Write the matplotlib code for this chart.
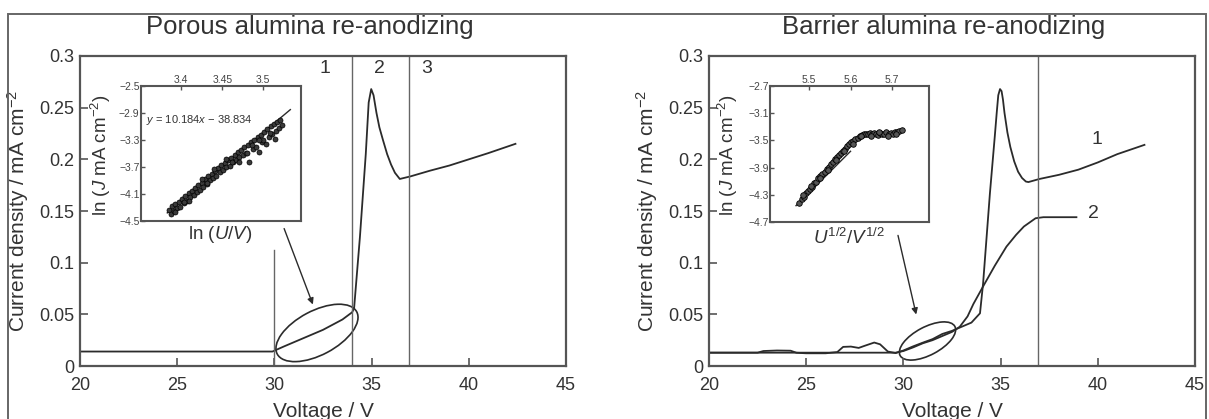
import matplotlib
matplotlib.use('Agg')
import matplotlib.pyplot as plt
import matplotlib.transforms as mtransforms
from matplotlib.patches import Ellipse, Rectangle

plt.rcParams['font.family'] = ['Liberation Sans', 'DejaVu Sans']
plt.rcParams['mathtext.fontset'] = 'custom'
plt.rcParams['mathtext.rm'] = 'Liberation Sans'
plt.rcParams['mathtext.it'] = 'Liberation Sans:italic'

# ---- data: porous alumina re-anodizing
porous_v = [20, 25, 29.9, 30.5, 31, 31.5, 32, 32.5, 33, 33.5, 34.0, 34.1, 34.4, 34.7,
            34.85, 34.98, 35.1, 35.25, 35.4, 35.58, 35.8, 36.0, 36.2, 36.45, 37, 38, 39,
            40, 41, 42.4]
porous_j = [0.014, 0.014, 0.014, 0.019, 0.023, 0.027, 0.031, 0.035, 0.040, 0.045, 0.052,
            0.056, 0.125, 0.205, 0.255, 0.268, 0.262, 0.245, 0.231, 0.219, 0.205, 0.195,
            0.187, 0.181, 0.1835, 0.189, 0.194, 0.200, 0.206, 0.215]
porous_vlines = [34.0, 36.9]
porous_short_vline = 30.0
porous_short_top = 0.112
porous_regions = ['1', '2', '3']
porous_region_x = [32.6, 35.4, 37.85]

# ---- data: barrier alumina re-anodizing
barrier1_v = [20, 22.5, 22.8, 23.5, 24.2, 24.5, 25, 26, 26.6, 26.9, 27.3, 27.7, 28.0, 28.5,
              28.8, 29.2, 29.6, 30.0, 30.5, 31, 31.5, 32, 32.5, 33, 33.5, 33.94, 34.1, 34.45,
              34.7, 34.8, 34.88, 34.97, 35.05, 35.12, 35.2, 35.35, 35.5, 35.7, 35.9, 36.1,
              36.3, 36.43, 37, 38, 39, 40, 41, 42.4]
barrier1_j = [0.0129, 0.0129, 0.0145, 0.0150, 0.0148, 0.0128, 0.0123, 0.0123, 0.0135, 0.0185,
              0.0188, 0.0175, 0.0195, 0.0227, 0.021, 0.014, 0.0125, 0.015, 0.019, 0.0226,
              0.026, 0.031, 0.034, 0.038, 0.042, 0.051, 0.080, 0.167, 0.222, 0.245, 0.262,
              0.268, 0.266, 0.258, 0.245, 0.226, 0.212, 0.198, 0.188, 0.182, 0.1785, 0.178,
              0.181, 0.185, 0.190, 0.197, 0.205, 0.214]
barrier2_v = [20, 25, 29.0, 29.6, 30.0, 30.5, 31.0, 31.5, 32.0, 32.5, 32.9, 33.3, 33.6, 34.1,
              34.7, 35.3, 35.8, 36.2, 36.5, 36.8, 37.2, 38.0, 38.9]
barrier2_j = [0.0129, 0.0129, 0.0129, 0.0129, 0.0145, 0.018, 0.022, 0.025, 0.029, 0.033, 0.038,
              0.048, 0.060, 0.077, 0.097, 0.1155, 0.127, 0.135, 0.139, 0.143, 0.144, 0.144,
              0.144]
barrier_vline = 36.9
barrier_curve_labels = ['1', '2']
barrier_label_pos = [(39.95, 0.219), (39.8, 0.148)]

# ---- inset data: ln J vs ln U (porous)
lnu = [3.385, 3.387, 3.389, 3.391, 3.393, 3.395, 3.397, 3.399, 3.401, 3.403, 3.405, 3.407,
       3.409, 3.411, 3.413, 3.415, 3.417, 3.419, 3.421, 3.423, 3.425, 3.427, 3.429, 3.431,
       3.433, 3.435, 3.437, 3.439, 3.441, 3.443, 3.445, 3.447, 3.449, 3.451, 3.453, 3.455,
       3.457, 3.459, 3.461, 3.463, 3.465, 3.467, 3.469, 3.471, 3.473, 3.475, 3.477, 3.479,
       3.481, 3.483, 3.485, 3.487, 3.489, 3.491, 3.493, 3.495, 3.497, 3.499, 3.501, 3.503,
       3.505, 3.507, 3.509, 3.511, 3.513, 3.515, 3.517, 3.519, 3.521, 3.523,
       3.455, 3.470, 3.480, 3.500, 3.495, 3.440, 3.425, 3.410, 3.392, 3.404, 3.432, 3.462,
       3.486, 3.508, 3.514]
lnj_p = [-4.33, -4.40, -4.28, -4.35, -4.25, -4.31, -4.22, -4.29, -4.17, -4.24, -4.13, -4.21,
         -4.09, -4.15, -4.05, -4.12, -4.01, -4.07, -3.96, -4.04, -3.93, -3.99, -3.88, -3.95,
         -3.84, -3.90, -3.80, -3.86, -3.76, -3.83, -3.72, -3.78, -3.67, -3.74, -3.64, -3.70,
         -3.60, -3.68, -3.56, -3.62, -3.52, -3.60, -3.48, -3.55, -3.45, -3.52, -3.40, -3.49,
         -3.37, -3.62, -3.33, -3.44, -3.30, -3.40, -3.26, -3.48, -3.22, -3.33, -3.18, -3.36,
         -3.14, -3.26, -3.10, -3.21, -3.06, -3.17, -3.03, -3.12, -3.00, -3.08,
         -3.58, -3.62, -3.50, -3.30, -3.30, -3.73, -3.88, -4.20, -4.36, -4.22, -3.93, -3.63,
         -3.38, -3.20, -3.28]
fit_p_x = [3.383, 3.533]
fit_p_y = [-4.38, -2.85]
fit_text = r'$y$ = 10.184$x$ − 38.834'

# ---- inset data: ln J vs U^1/2 (barrier)
sqrtu = [5.476, 5.482, 5.487, 5.492, 5.497, 5.502, 5.507, 5.512, 5.517, 5.522, 5.527, 5.532,
         5.537, 5.542, 5.547, 5.552, 5.557, 5.562, 5.567, 5.572, 5.577, 5.582, 5.587, 5.592,
         5.597, 5.602, 5.607, 5.612, 5.617, 5.622, 5.627, 5.632, 5.637, 5.642, 5.647, 5.652,
         5.657, 5.662, 5.667, 5.672, 5.677, 5.682, 5.687, 5.692, 5.697, 5.702, 5.707, 5.712,
         5.718, 5.724,
         5.485, 5.505, 5.525, 5.545, 5.565, 5.585, 5.605, 5.625, 5.650, 5.670, 5.690, 5.710]
lnj_b = [-4.42, -4.36, -4.33, -4.28, -4.25, -4.21, -4.18, -4.13, -4.11, -4.06, -4.03, -3.99,
         -3.96, -3.92, -3.89, -3.85, -3.82, -3.78, -3.75, -3.71, -3.68, -3.65, -3.62, -3.58,
         -3.56, -3.53, -3.51, -3.48, -3.46, -3.44, -3.42, -3.41, -3.40, -3.40, -3.39, -3.41,
         -3.39, -3.40, -3.42, -3.39, -3.41, -3.40, -3.38, -3.41, -3.39, -3.40, -3.38, -3.37,
         -3.36, -3.35,
         -4.31, -4.17, -4.06, -3.93, -3.79, -3.66, -3.55, -3.44, -3.43, -3.37, -3.43, -3.40]
fit_b_x = [5.468, 5.60]
fit_b_y = [-4.46, -3.66]

main_yticks = [0, 0.05, 0.1, 0.15, 0.2, 0.25, 0.3]
main_yticklabels = ['0', '0.05', '0.1', '0.15', '0.2', '0.25', '0.3']
main_xticks = [20, 25, 30, 35, 40, 45]

ink = '#2b2b2b'
grey = '#555555'

fig = plt.figure(figsize=(12.09, 4.19), dpi=100)

# figure frame
fig.patches.append(Rectangle((8 / 1209, -0.05), 1198 / 1209, 1 - 14 / 419 + 0.05,
                             transform=fig.transFigure, fill=False, ec='#666666', lw=1.4))

ax1 = fig.add_axes([80 / 1209, 1 - 366 / 419, 486 / 1209, 310 / 419])
ax2 = fig.add_axes([709 / 1209, 1 - 366 / 419, 486 / 1209, 310 / 419])


def style_main(ax, title, title_x):
    ax.set_xlim(20, 45)
    ax.set_ylim(0, 0.3)
    ax.set_xticks(main_xticks)
    ax.set_yticks(main_yticks)
    ax.set_yticklabels(main_yticklabels)
    ax.tick_params(direction='in', length=6, width=1.2, color=grey, labelsize=13,
                   labelcolor='#333333')
    ax.tick_params(axis='x', pad=8)
    ax.tick_params(axis='y', pad=4)
    for s in ax.spines.values():
        s.set_color(grey)
        s.set_linewidth(1.6)
    ax.set_xlabel('Voltage / V', fontsize=15, color='#333333', labelpad=6)
    ax.set_ylabel('Current density / mA cm$^{-2}$', fontsize=15, color='#333333', labelpad=6)
    ax.text(title_x, 1.095, title, transform=ax.transAxes, ha='center', va='center',
            fontsize=18.5, color='#333333')


def add_ellipse(ax, cx, cy, w_in, h_in, angle):
    trans = fig.dpi_scale_trans + mtransforms.ScaledTranslation(cx, cy, ax.transData)
    ax.add_patch(Ellipse((0, 0), w_in, h_in, angle=angle, transform=trans,
                         fill=False, ec=ink, lw=1.2))


# ---- left panel
style_main(ax1, 'Porous alumina re-anodizing', 0.473)
ax1.plot(porous_v, porous_j, color=ink, lw=1.3)
for xv in porous_vlines:
    ax1.axvline(xv, color='#666666', lw=1.0)
ax1.plot([porous_short_vline, porous_short_vline], [0, porous_short_top], color='#666666', lw=1.0)
for lab, xv in zip(porous_regions, porous_region_x):
    ax1.text(xv, 0.288, lab, ha='center', va='center', fontsize=14, color='#333333')
add_ellipse(ax1, 32.19, 0.032, 0.90, 0.44, 28)
ax1.annotate('', xy=(32.03, 0.057), xytext=(30.45, 0.1355),
             arrowprops=dict(arrowstyle='-|>', color=ink, lw=1.0, mutation_scale=9))

# ---- right panel
style_main(ax2, 'Barrier alumina re-anodizing', 0.4835)
ax2.plot(barrier1_v, barrier1_j, color=ink, lw=1.3)
ax2.plot(barrier2_v, barrier2_j, color=ink, lw=1.3)
ax2.axvline(barrier_vline, color='#666666', lw=1.0)
for lab, (xv, yv) in zip(barrier_curve_labels, barrier_label_pos):
    ax2.text(xv, yv, lab, ha='center', va='center', fontsize=14, color='#333333')
add_ellipse(ax2, 31.24, 0.0242, 0.62, 0.28, 28)
ax2.annotate('', xy=(30.69, 0.0472), xytext=(29.69, 0.129),
             arrowprops=dict(arrowstyle='-|>', color=ink, lw=1.0, mutation_scale=9))


def style_inset(ax, xt, yt, xlabel, ylab_x, xlab_y):
    ax.xaxis.tick_top()
    ax.set_xticks(xt)
    ax.set_xticklabels([('%g' % v) for v in xt])
    ax.set_yticks(yt)
    ax.set_yticklabels([('%g' % v).replace('-', '−') for v in yt])
    ax.tick_params(direction='in', length=3, width=1.0, color=grey, labelsize=7.5,
                   labelcolor='#444444', pad=1)
    for s in ax.spines.values():
        s.set_color(grey)
        s.set_linewidth(1.5)
    ax.text(0.494, xlab_y, xlabel, transform=ax.transAxes, ha='center', va='center',
            fontsize=13.5, color='#333333')
    ax.text(ylab_x, 0.49, 'ln ($J$ mA cm$^{-2}$)', transform=ax.transAxes, rotation=90,
            ha='center', va='center', fontsize=13.5, color='#333333')


# ---- left inset
in1 = fig.add_axes([141 / 1209, 1 - 221 / 419, 160 / 1209, 135 / 419])
in1.set_xlim(3.351, 3.546)
in1.set_ylim(-4.5, -2.5)
in1.plot(fit_p_x, fit_p_y, color=ink, lw=1.0)
in1.plot(lnu, lnj_p, 'o', ms=3.6, mfc='#3a3a3a', mec='black', mew=0.5)
in1.text(0.03, 0.745, fit_text, transform=in1.transAxes, fontsize=8, color='#333333',
         va='center')
style_inset(in1, [3.4, 3.45, 3.5], [-2.5, -2.9, -3.3, -3.7, -4.1, -4.5],
            'ln ($U$/$V$)', -0.25, -0.10)

# ---- right inset
in2 = fig.add_axes([770 / 1209, 1 - 222 / 419, 159 / 1209, 136 / 419])
in2.set_xlim(5.405, 5.79)
in2.set_ylim(-4.7, -2.7)
in2.plot(fit_b_x, fit_b_y, color=ink, lw=1.0)
in2.plot(sqrtu, lnj_b, 'o', ms=4, mfc='#555555', mec='black', mew=0.6)
style_inset(in2, [5.5, 5.6, 5.7], [-2.7, -3.1, -3.5, -3.9, -4.3, -4.7],
            '$U^{1/2}/V^{1/2}$', -0.262, -0.115)

fig.savefig('out.png', dpi=100)
